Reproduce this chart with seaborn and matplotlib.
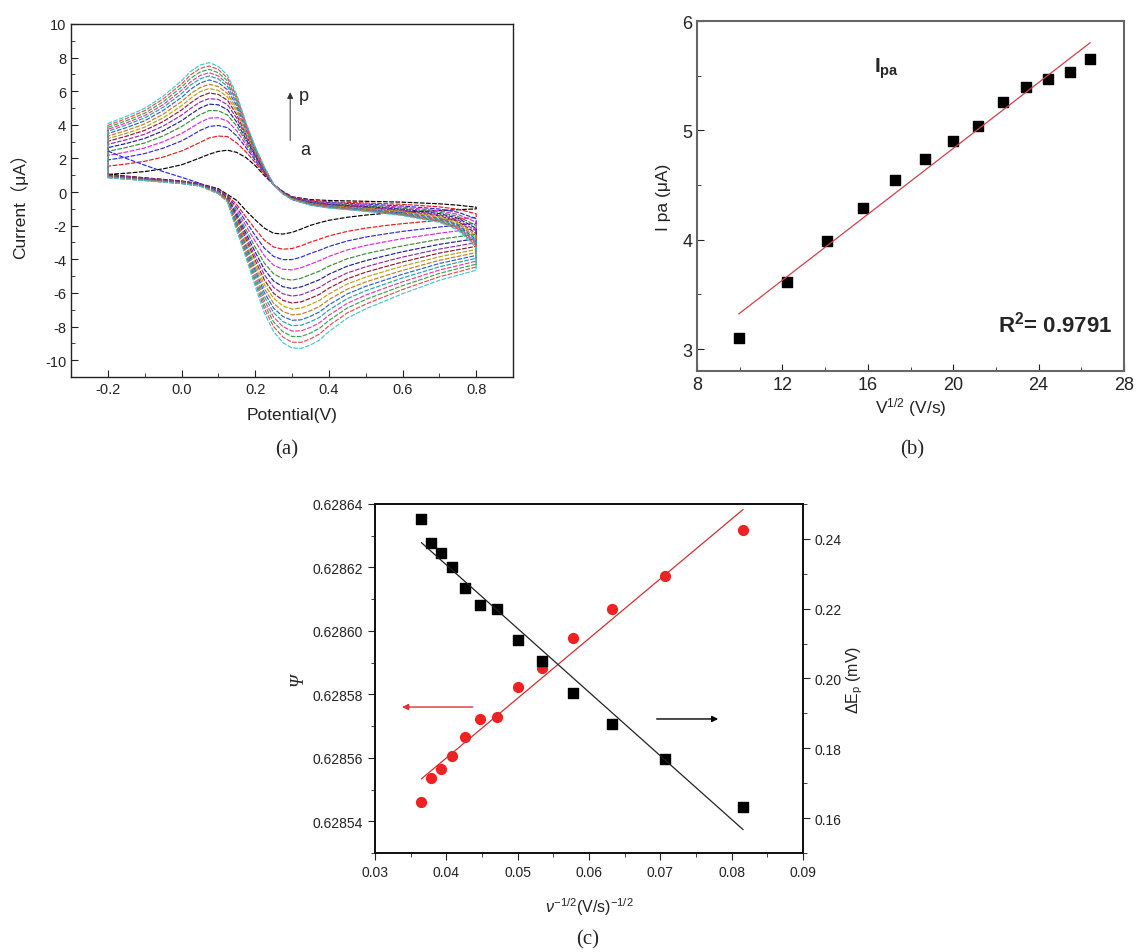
import numpy as np
import pandas as pd
import matplotlib
matplotlib.use('Agg')
import matplotlib.pyplot as plt
from matplotlib.ticker import MultipleLocator, FormatStrFormatter, FixedLocator
import seaborn as sns

sns.set_style('ticks')
plt.rcParams['font.family'] = ['Liberation Sans', 'Noto Sans CJK SC', 'DejaVu Sans']
plt.rcParams['mathtext.fontset'] = 'custom'
plt.rcParams['mathtext.rm'] = 'Liberation Sans'
plt.rcParams['mathtext.it'] = 'Liberation Sans:italic'
plt.rcParams['mathtext.bf'] = 'Liberation Sans:bold'
plt.rcParams['axes.unicode_minus'] = False

# ---------------- Panel (a): cyclic voltammograms a..p ----------------
curve_labels = list('abcdefghijklmnop')
curve_colors = ['#000000', '#e41a1c', '#2b2bd6', '#d62bd6', '#3c8c3c', '#1f1f8f',
                '#8e2bb0', '#8b1a3a', '#b5a21c', '#c08020', '#2f5fd0', '#2aa0a0',
                '#e040a0', '#40a050', '#e05050', '#40c8d0']

E_upper = [-0.2, -0.15, -0.1, -0.05, 0.0, 0.025, 0.05, 0.075, 0.1, 0.125, 0.15, 0.175,
           0.2, 0.225, 0.25, 0.275, 0.3, 0.35, 0.4, 0.5, 0.6, 0.7, 0.75, 0.8]
upper_branch = [
    [1.05, 1.12, 1.22, 1.38, 1.62, 1.82, 2.03, 2.25, 2.42, 2.49, 2.36, 2.05, 1.58, 0.98, 0.45, 0.04, -0.28, -0.45, -0.50, -0.55, -0.60, -0.70, -0.78, -0.90],
    [1.54, 1.67, 1.83, 2.08, 2.44, 2.69, 2.95, 3.22, 3.33, 3.30, 2.92, 2.39, 1.76, 1.07, 0.45, 0.02, -0.31, -0.50, -0.57, -0.65, -0.73, -0.88, -1.02, -1.29],
    [1.91, 2.08, 2.29, 2.61, 3.04, 3.34, 3.66, 3.90, 3.96, 3.83, 3.34, 2.65, 1.90, 1.13, 0.45, 0.00, -0.33, -0.54, -0.63, -0.72, -0.83, -1.01, -1.20, -1.58],
    [2.18, 2.38, 2.62, 2.99, 3.48, 3.81, 4.14, 4.40, 4.42, 4.22, 3.64, 2.83, 2.00, 1.17, 0.45, -0.01, -0.34, -0.57, -0.67, -0.77, -0.90, -1.11, -1.33, -1.79],
    [2.42, 2.65, 2.92, 3.34, 3.89, 4.25, 4.60, 4.85, 4.84, 4.58, 3.92, 3.00, 2.09, 1.22, 0.45, -0.02, -0.36, -0.60, -0.70, -0.82, -0.96, -1.20, -1.45, -1.99],
    [2.64, 2.89, 3.19, 3.64, 4.24, 4.63, 4.99, 5.23, 5.19, 4.90, 4.16, 3.15, 2.17, 1.25, 0.45, -0.03, -0.37, -0.62, -0.74, -0.86, -1.02, -1.28, -1.55, -2.16],
    [2.84, 3.11, 3.44, 3.92, 4.57, 4.98, 5.35, 5.56, 5.51, 5.19, 4.39, 3.29, 2.24, 1.29, 0.45, -0.04, -0.38, -0.64, -0.77, -0.90, -1.07, -1.35, -1.65, -2.31],
    [3.02, 3.32, 3.67, 4.19, 4.88, 5.31, 5.68, 5.89, 5.81, 5.45, 4.60, 3.42, 2.31, 1.32, 0.45, -0.05, -0.39, -0.67, -0.79, -0.94, -1.12, -1.42, -1.74, -2.46],
    [3.18, 3.49, 3.86, 4.41, 5.13, 5.58, 5.97, 6.16, 6.05, 5.66, 4.78, 3.52, 2.37, 1.35, 0.45, -0.06, -0.40, -0.68, -0.82, -0.97, -1.16, -1.47, -1.81, -2.59],
    [3.33, 3.66, 4.05, 4.63, 5.38, 5.85, 6.21, 6.41, 6.28, 5.86, 4.95, 3.63, 2.42, 1.37, 0.45, -0.07, -0.41, -0.70, -0.84, -1.00, -1.20, -1.53, -1.89, -2.71],
    [3.48, 3.83, 4.24, 4.85, 5.63, 6.12, 6.48, 6.67, 6.51, 6.08, 5.12, 3.73, 2.48, 1.40, 0.45, -0.07, -0.42, -0.72, -0.86, -1.03, -1.24, -1.58, -1.96, -2.83],
    [3.62, 3.99, 4.41, 5.04, 5.86, 6.37, 6.73, 6.91, 6.73, 6.28, 5.28, 3.83, 2.53, 1.42, 0.45, -0.08, -0.42, -0.73, -0.88, -1.06, -1.28, -1.63, -2.03, -2.94],
    [3.73, 4.11, 4.55, 5.20, 6.05, 6.56, 6.93, 7.10, 6.91, 6.44, 5.40, 3.91, 2.57, 1.44, 0.45, -0.08, -0.43, -0.74, -0.90, -1.08, -1.31, -1.67, -2.08, -3.02],
    [3.85, 4.24, 4.69, 5.37, 6.24, 6.77, 7.14, 7.30, 7.10, 6.61, 5.54, 3.99, 2.61, 1.46, 0.45, -0.09, -0.44, -0.76, -0.92, -1.10, -1.34, -1.72, -2.14, -3.12],
    [3.97, 4.37, 4.84, 5.54, 6.43, 6.98, 7.35, 7.50, 7.29, 6.78, 5.67, 4.07, 2.66, 1.48, 0.45, -0.10, -0.44, -0.77, -0.93, -1.13, -1.37, -1.76, -2.19, -3.21],
    [4.08, 4.50, 4.98, 5.70, 6.62, 7.18, 7.55, 7.70, 7.48, 6.95, 5.80, 4.15, 2.70, 1.50, 0.45, -0.10, -0.45, -0.78, -0.95, -1.15, -1.40, -1.80, -2.25, -3.30],
]

E_lower = [-0.2, -0.1, 0.0, 0.05, 0.1, 0.125, 0.15, 0.175, 0.2, 0.225, 0.25, 0.275,
           0.3, 0.325, 0.35, 0.375, 0.4, 0.45, 0.5, 0.55, 0.6, 0.7, 0.75, 0.8]
lower_branch = [
    [1.05, 0.85, 0.66, 0.50, 0.20, -0.15, -0.50, -1.10, -1.65, -2.15, -2.45, -2.50, -2.40, -2.20, -1.98, -1.82, -1.68, -1.50, -1.37, -1.27, -1.20, -1.10, -1.05, -1.00],
    [1.02, 0.83, 0.64, 0.48, 0.16, -0.21, -0.75, -1.49, -2.20, -2.86, -3.27, -3.40, -3.36, -3.19, -2.98, -2.80, -2.61, -2.34, -2.15, -2.00, -1.88, -1.68, -1.60, -1.51],
    [1.00, 0.81, 0.62, 0.47, 0.13, -0.26, -0.92, -1.76, -2.58, -3.34, -3.83, -4.02, -4.02, -3.87, -3.65, -3.46, -3.24, -2.91, -2.68, -2.50, -2.34, -2.08, -1.97, -1.86],
    [0.99, 0.80, 0.61, 0.45, 0.10, -0.30, -1.08, -2.01, -2.93, -3.79, -4.35, -4.59, -4.63, -4.50, -4.29, -4.08, -3.83, -3.44, -3.18, -2.97, -2.77, -2.45, -2.31, -2.18],
    [0.97, 0.78, 0.59, 0.44, 0.08, -0.34, -1.24, -2.25, -3.28, -4.23, -4.86, -5.16, -5.24, -5.13, -4.91, -4.70, -4.41, -3.97, -3.67, -3.43, -3.20, -2.81, -2.66, -2.50],
    [0.95, 0.77, 0.58, 0.43, 0.05, -0.37, -1.37, -2.46, -3.57, -4.60, -5.29, -5.63, -5.74, -5.64, -5.43, -5.21, -4.89, -4.41, -4.08, -3.81, -3.55, -3.11, -2.94, -2.77],
    [0.94, 0.76, 0.57, 0.42, 0.03, -0.40, -1.49, -2.64, -3.83, -4.93, -5.67, -6.05, -6.19, -6.11, -5.90, -5.67, -5.33, -4.81, -4.45, -4.15, -3.87, -3.39, -3.20, -3.01],
    [0.93, 0.75, 0.56, 0.41, 0.02, -0.43, -1.60, -2.81, -4.06, -5.23, -6.02, -6.44, -6.60, -6.53, -6.32, -6.08, -5.72, -5.16, -4.77, -4.46, -4.16, -3.63, -3.43, -3.23],
    [0.92, 0.74, 0.55, 0.40, 0.00, -0.45, -1.69, -2.95, -4.27, -5.49, -6.32, -6.77, -6.96, -6.90, -6.69, -6.44, -6.06, -5.47, -5.06, -4.73, -4.41, -3.85, -3.63, -3.42],
    [0.91, 0.73, 0.55, 0.39, -0.01, -0.47, -1.78, -3.10, -4.47, -5.75, -6.62, -7.10, -7.31, -7.26, -7.06, -6.80, -6.40, -5.78, -5.35, -5.00, -4.66, -4.06, -3.83, -3.60],
    [0.90, 0.72, 0.54, 0.39, -0.03, -0.49, -1.87, -3.23, -4.65, -5.99, -6.90, -7.40, -7.63, -7.60, -7.39, -7.13, -6.71, -6.06, -5.61, -5.25, -4.89, -4.25, -4.01, -3.77],
    [0.89, 0.71, 0.53, 0.38, -0.04, -0.51, -1.95, -3.36, -4.83, -6.22, -7.17, -7.70, -7.95, -7.92, -7.72, -7.45, -7.02, -6.34, -5.87, -5.49, -5.11, -4.45, -4.19, -3.94],
    [0.88, 0.71, 0.52, 0.37, -0.06, -0.53, -2.04, -3.49, -5.02, -6.46, -7.44, -8.00, -8.27, -8.26, -8.05, -7.77, -7.33, -6.62, -6.13, -5.73, -5.34, -4.64, -4.38, -4.11],
    [0.87, 0.70, 0.52, 0.37, -0.07, -0.56, -2.12, -3.62, -5.21, -6.70, -7.72, -8.31, -8.59, -8.59, -8.39, -8.10, -7.64, -6.90, -6.39, -5.98, -5.57, -4.84, -4.56, -4.29],
    [0.86, 0.69, 0.51, 0.36, -0.09, -0.58, -2.21, -3.76, -5.40, -6.94, -8.00, -8.62, -8.93, -8.94, -8.74, -8.44, -7.96, -7.19, -6.67, -6.23, -5.80, -5.04, -4.75, -4.46],
    [0.85, 0.68, 0.50, 0.35, -0.10, -0.60, -2.30, -3.90, -5.60, -7.20, -8.30, -8.95, -9.28, -9.30, -9.10, -8.80, -8.30, -7.50, -6.95, -6.50, -6.05, -5.25, -4.95, -4.65],
]

initial_E = [-0.2, -0.15, -0.1, -0.05, 0.0, 0.05]
initial_I = [2.44, 2.00, 1.60, 1.22, 0.88, 0.52]

# ---------------- Panel (b): Ipa vs v^1/2 ----------------
sqrt_v = [9.95, 12.21, 14.08, 15.77, 17.27, 18.67, 19.97, 21.18, 22.34, 23.41, 24.46, 25.47, 26.42]
ipa = [3.10, 3.61, 3.99, 4.29, 4.55, 4.74, 4.90, 5.04, 5.26, 5.40, 5.47, 5.53, 5.65]

# ---------------- Panel (c): Psi and dEp vs v^-1/2 ----------------
inv_sqrt_v = [0.0365, 0.0378, 0.0392, 0.0408, 0.0426, 0.0447, 0.0471, 0.0500, 0.0534,
              0.0577, 0.0632, 0.0707, 0.0816]
psi = [0.628546, 0.6285535, 0.6285566, 0.6285606, 0.6285667, 0.6285721, 0.628573,
       0.6285823, 0.6285883, 0.6285977, 0.628607, 0.6286173, 0.6286318]
delta_ep = [0.2458, 0.2389, 0.2359, 0.2320, 0.2259, 0.2210, 0.2199, 0.2110, 0.2050,
            0.1959, 0.1869, 0.1769, 0.1631]
psi_ticks = [0.62854, 0.62856, 0.62858, 0.62860, 0.62862, 0.62864]

fig = plt.figure(figsize=(11.36, 9.53), dpi=100)
ax_a = fig.add_axes([0.0625, 0.6034, 0.3891, 0.3704])
ax_b = fig.add_axes([0.6136, 0.6097, 0.3758, 0.3672])
ax_c = fig.add_axes([0.3301, 0.1039, 0.3768, 0.3662])

# ---- (a)
for lab, col, up, lo in zip(curve_labels, curve_colors, upper_branch, lower_branch):
    E = list(E_lower) + list(E_upper[::-1]) + [E_lower[0]]
    I = list(lo) + list(up[::-1]) + [lo[0]]
    sns.lineplot(x=E, y=I, sort=False, estimator=None, ax=ax_a, color=col,
                 lw=0.85, linestyle=(0, (4, 1.2)), legend=False)
sns.lineplot(x=initial_E, y=initial_I, sort=False, estimator=None, ax=ax_a,
             color='#2b2bd6', lw=0.85, linestyle=(0, (4, 1.2)), legend=False)

ax_a.set_xlim(-0.3, 0.9)
ax_a.set_ylim(-11, 10)
ax_a.xaxis.set_major_locator(FixedLocator([-0.2, 0.0, 0.2, 0.4, 0.6, 0.8]))
ax_a.xaxis.set_minor_locator(MultipleLocator(0.1))
ax_a.xaxis.set_major_formatter(FormatStrFormatter('%.1f'))
ax_a.yaxis.set_major_locator(MultipleLocator(2))
ax_a.yaxis.set_minor_locator(MultipleLocator(1))
ax_a.tick_params(which='both', direction='in', labelsize=10.5, colors='#222')
ax_a.tick_params(which='major', length=5)
ax_a.tick_params(which='minor', length=3)
for s in ax_a.spines.values():
    s.set_linewidth(1.0)
    s.set_color('#222')
ax_a.set_xlabel('Potential(V)', fontsize=12.5, color='#222', labelpad=8)
ax_a.set_ylabel('Current（μA）', fontsize=12.5, color='#222', labelpad=12)
ax_a.annotate('', xy=(0.295, 6.1), xytext=(0.295, 2.9),
              arrowprops=dict(arrowstyle='-|>', color='#333', lw=0.7, mutation_scale=9))
ax_a.text(0.318, 5.75, 'p', fontsize=13, ha='left', va='center', color='#222')
ax_a.text(0.322, 2.55, 'a', fontsize=13, ha='left', va='center', color='#222')

# ---- (b)
sns.regplot(x=sqrt_v, y=ipa, ax=ax_b, ci=None, marker='s', color='black',
            scatter_kws={'s': 45, 'alpha': 1}, line_kws={'color': '#d0404a', 'lw': 0.9})
ax_b.set_xlim(8, 28)
ax_b.set_ylim(2.8, 6)
ax_b.xaxis.set_major_locator(MultipleLocator(4))
ax_b.xaxis.set_minor_locator(MultipleLocator(2))
ax_b.yaxis.set_major_locator(MultipleLocator(1))
ax_b.yaxis.set_minor_locator(MultipleLocator(0.5))
ax_b.tick_params(which='both', direction='in', labelsize=13, colors='#222')
ax_b.tick_params(which='major', length=5)
ax_b.tick_params(which='minor', length=3)
for s in ax_b.spines.values():
    s.set_linewidth(1.5)
    s.set_color('#666')
ax_b.set_xlabel(r'V$^{1/2}$ (V/s)', fontsize=12.5, color='#222', labelpad=2)
ax_b.set_ylabel('I pa (μA)', fontsize=12.5, color='#222', labelpad=8)
ax_b.text(16.9, 5.57, r'$\mathbf{I_{pa}}$', fontsize=15, ha='center', va='center')
ax_b.text(22.1, 3.23, r'$\mathbf{R^2}$= 0.9791', fontsize=16, fontweight='bold',
          ha='left', va='center')

# ---- (c)
ax_c2 = ax_c.twinx()
sns.regplot(x=inv_sqrt_v, y=psi, ax=ax_c, ci=None, marker='o', color='#ee2222',
            scatter_kws={'s': 50, 'alpha': 1}, line_kws={'color': '#d03030', 'lw': 0.9})
sns.regplot(x=inv_sqrt_v, y=delta_ep, ax=ax_c2, ci=None, marker='s', color='black',
            scatter_kws={'s': 50, 'alpha': 1}, line_kws={'color': '#222', 'lw': 0.9})
ax_c.set_xlim(0.03, 0.09)
ax_c.set_ylim(0.62853, 0.62864)
ax_c2.set_ylim(0.15, 0.25)
ax_c.xaxis.set_major_locator(MultipleLocator(0.01))
ax_c.xaxis.set_minor_locator(MultipleLocator(0.005))
ax_c.xaxis.set_major_formatter(FormatStrFormatter('%.2f'))
ax_c.yaxis.set_major_locator(FixedLocator(psi_ticks))
ax_c.yaxis.set_minor_locator(MultipleLocator(0.00001))
ax_c.yaxis.set_major_formatter(FormatStrFormatter('%.5f'))
ax_c2.yaxis.set_major_locator(MultipleLocator(0.02))
ax_c2.yaxis.set_minor_locator(MultipleLocator(0.01))
ax_c2.yaxis.set_major_formatter(FormatStrFormatter('%.2f'))
for a in (ax_c, ax_c2):
    a.tick_params(which='both', direction='out', labelsize=10, colors='#222')
    a.tick_params(which='major', length=5)
    a.tick_params(which='minor', length=3)
    for s in a.spines.values():
        s.set_linewidth(1.3)
        s.set_color('#111')
ax_c.set_xlabel(r'$\nu^{-1/2}$(V/s)$^{-1/2}$', fontsize=11.5, color='#222', labelpad=12)
ax_c.set_ylabel('Ψ', fontsize=13, fontstyle='italic', family='Liberation Serif',
                color='#222', labelpad=4)
ax_c2.set_ylabel(r'ΔE$_\mathrm{p}$ (mV)', fontsize=11.5, color='#222', labelpad=2)
ax_c.annotate('', xy=(0.0334, 0.628576), xytext=(0.0441, 0.628576),
              arrowprops=dict(arrowstyle='-|>', color='#e03030', lw=1, mutation_scale=9))
ax_c2.annotate('', xy=(0.0785, 0.1884), xytext=(0.0691, 0.1884),
               arrowprops=dict(arrowstyle='-|>', color='black', lw=1, mutation_scale=9))

# panel letters
fig.text(0.2526, 1 - 450 / 953, '(a)', ha='center', va='center', family='Liberation Serif', fontsize=15)
fig.text(0.8028, 1 - 450 / 953, '(b)', ha='center', va='center', family='Liberation Serif', fontsize=15)
fig.text(0.5176, 1 - 940 / 953, '(c)', ha='center', va='center', family='Liberation Serif', fontsize=15)

fig.savefig('out.png', dpi=100)
